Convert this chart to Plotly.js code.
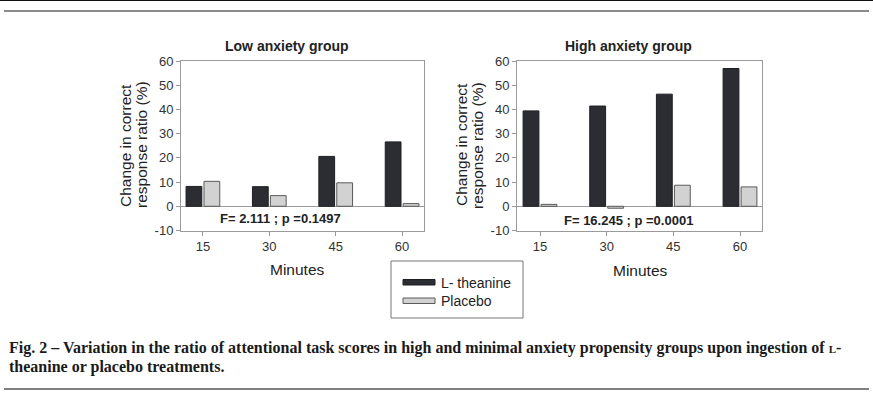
<!DOCTYPE html>
<html>
<head>
<meta charset="utf-8">
<script src="https://cdn.plot.ly/plotly-3.0.1.min.js"></script>
<style>html,body{margin:0;padding:0;background:#fff;}#chart{width:873px;height:397px;}</style>
</head>
<body>
<div id="chart"></div>
<script>
// ---- data ----
var minutes = ['15', '30', '45', '60'];
var lowTheanine = [8.2, 8.1, 20.6, 26.6];
var lowPlacebo = [10.3, 4.4, 9.7, 1.1];
var highTheanine = [39.4, 41.4, 46.3, 56.9];
var highPlacebo = [0.8, -0.8, 8.7, 8.0];
var seriesNames = ['L- theanine', 'Placebo'];
var panelTitles = ['Low anxiety group', 'High anxiety group'];
var statTexts = ['F= 2.111 ; p =0.1497', 'F= 16.245 ; p =0.0001'];
var yTicks = [-10, 0, 10, 20, 30, 40, 50, 60];

var W = 873, H = 397;
function px(x) { return x / W; }
function py(y) { return 1 - y / H; }

var darkFill = '#2b2d33', darkLine = '#1e1f24';
var lightFill = '#d2d2d2', lightLine = '#5a5a5a';
var axisCol = '#9a9a9a';
var SANS = 'Liberation Sans, Arial, sans-serif';
var SERIF = 'Liberation Serif, Times New Roman, serif';

function barTrace(y, name, xa, ya, fill, line) {
  return {
    type: 'bar', x: minutes, y: y, name: name, xaxis: xa, yaxis: ya,
    marker: { color: fill, line: { color: line, width: 1 } },
    showlegend: false, hoverinfo: 'x+y'
  };
}

var data = [
  barTrace(lowTheanine, seriesNames[0], 'x', 'y', darkFill, darkLine),
  barTrace(lowPlacebo, seriesNames[1], 'x', 'y', lightFill, lightLine),
  barTrace(highTheanine, seriesNames[0], 'x2', 'y2', darkFill, darkLine),
  barTrace(highPlacebo, seriesNames[1], 'x2', 'y2', lightFill, lightLine)
];

function xAxis(domain, range, anchor) {
  return {
    domain: domain, anchor: anchor, type: 'category', range: range,
    showline: true, mirror: true, linecolor: axisCol, linewidth: 1,
    ticks: 'outside', ticklen: 4, tickcolor: axisCol,
    showgrid: false, zeroline: false,
    tickfont: { family: SANS, size: 13, color: '#333' }
  };
}
function yAxis(domain, anchor) {
  return {
    domain: domain, anchor: anchor, range: [-10, 60],
    tickvals: yTicks, ticktext: yTicks.map(String),
    showline: true, mirror: true, linecolor: axisCol, linewidth: 1,
    ticks: 'outside', ticklen: 4, tickcolor: axisCol,
    showgrid: false, zeroline: true, zerolinecolor: axisCol, zerolinewidth: 1,
    tickfont: { family: SANS, size: 13, color: '#333' }
  };
}

var yDom = [py(230.5), py(61)];

var annotations = [];
function ann(text, x, y, size, opts) {
  var a = {
    text: text, xref: 'paper', yref: 'paper', x: px(x), y: py(y),
    xanchor: 'center', yanchor: 'middle', showarrow: false,
    font: { family: SANS, size: size, color: '#222' }
  };
  for (var k in opts) a[k] = opts[k];
  annotations.push(a);
}
// panel titles
ann('<b>' + panelTitles[0] + '</b>', 286.5, 46, 14);
ann('<b>' + panelTitles[1] + '</b>', 628, 46, 14);
// stats
ann('<b>' + statTexts[0] + '</b>', 280, 219, 13);
ann('<b>' + statTexts[1] + '</b>', 628, 220, 13);
// y titles
ann('Change in correct', 125, 145, 15.5, { textangle: -90 });
ann('response ratio (%)', 141, 145, 15.5, { textangle: -90 });
ann('Change in correct', 461, 145, 15.5, { textangle: -90 });
ann('response ratio (%)', 477, 145, 15.5, { textangle: -90 });
// x titles
ann('Minutes', 297, 269, 15.5);
ann('Minutes', 640, 270, 15.5);
// legend text
ann(seriesNames[0], 439, 282.5, 14, { xanchor: 'left' });
ann(seriesNames[1], 439, 301, 14, { xanchor: 'left' });
// caption
ann('<b>Fig. 2 – Variation in the ratio of attentional task scores in high and minimal anxiety propensity groups upon ingestion of <span style="font-size:11px">L</span>-</b>',
    8, 348, 16, { xanchor: 'left', borderpad: 0, font: { family: SERIF, size: 16, color: '#1a1a1a' } });
ann('<b>theanine or placebo treatments.</b>',
    8, 367, 16, { xanchor: 'left', borderpad: 0, font: { family: SERIF, size: 16, color: '#1a1a1a' } });

var shapes = [
  // top rules
  { type: 'line', xref: 'paper', yref: 'paper', x0: 0, x1: 1, y0: py(0.5), y1: py(0.5), line: { color: '#111', width: 1 } },
  { type: 'line', xref: 'paper', yref: 'paper', x0: px(4), x1: px(869), y0: py(11), y1: py(11), line: { color: '#8a8a8a', width: 2 } },
  // bottom rule
  { type: 'line', xref: 'paper', yref: 'paper', x0: px(4), x1: px(869), y0: py(389), y1: py(389), line: { color: '#555', width: 1.5 } },
  // legend box
  { type: 'rect', xref: 'paper', yref: 'paper', x0: px(391), x1: px(523), y0: py(318), y1: py(261), line: { color: '#777', width: 1 }, fillcolor: 'rgba(0,0,0,0)' },
  // legend swatches
  { type: 'rect', xref: 'paper', yref: 'paper', x0: px(403), x1: px(435), y0: py(285), y1: py(279.5), line: { color: darkLine, width: 1 }, fillcolor: darkFill },
  { type: 'rect', xref: 'paper', yref: 'paper', x0: px(403), x1: px(435), y0: py(303.5), y1: py(298), line: { color: lightLine, width: 1 }, fillcolor: lightFill }
];

var layout = {
  width: W, height: H,
  margin: { l: 0, r: 0, t: 0, b: 0 },
  paper_bgcolor: '#fff', plot_bgcolor: '#fff',
  barmode: 'group', bargap: 0.46, bargroupgap: 0.12,
  showlegend: false,
  xaxis: xAxis([px(181), px(424)], [-0.33, 3.33], 'y'),
  yaxis: yAxis(yDom, 'x'),
  xaxis2: xAxis([px(517), px(762)], [-0.345, 3.33], 'y2'),
  yaxis2: yAxis(yDom, 'x2'),
  annotations: annotations,
  shapes: shapes,
  font: { family: SANS }
};

Plotly.newPlot('chart', data, layout, { displayModeBar: false, staticPlot: true });
</script>
</body>
</html>
